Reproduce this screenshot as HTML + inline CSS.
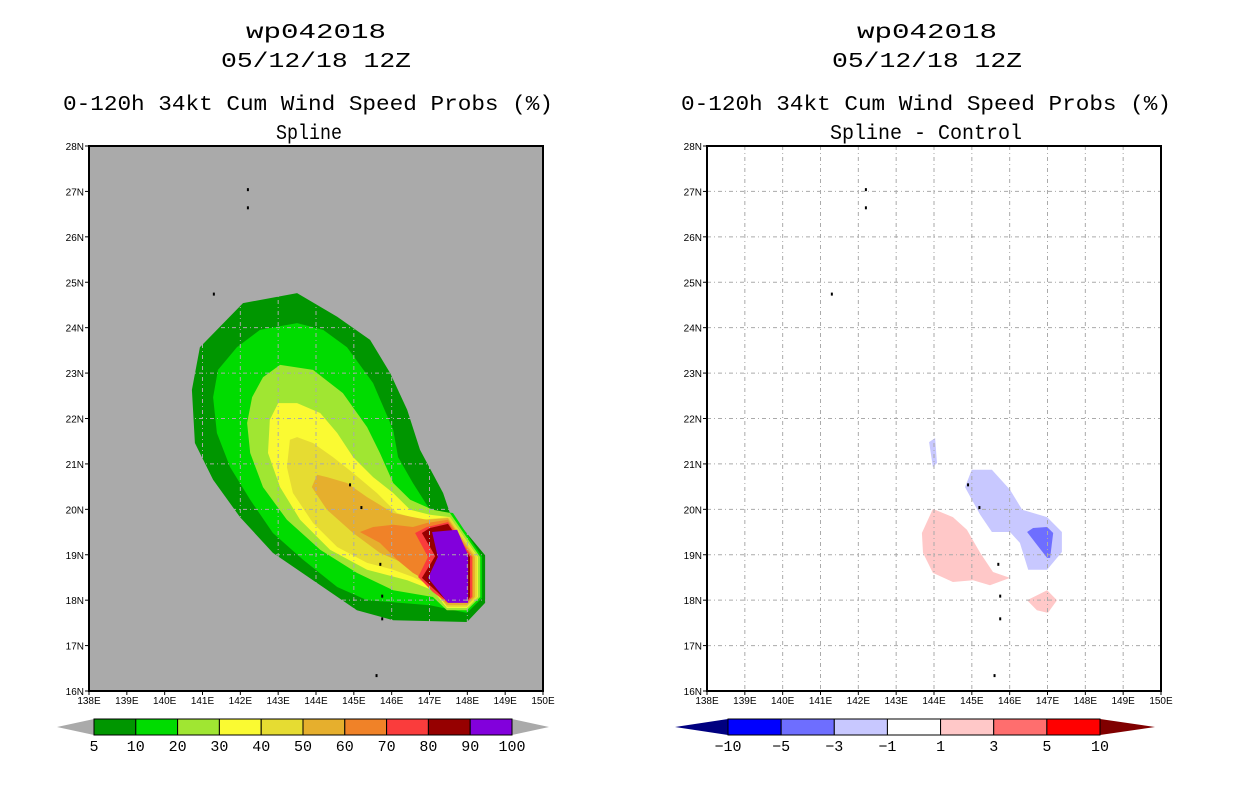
<!DOCTYPE html>
<html><head><meta charset="utf-8"><style>
html,body{margin:0;padding:0;background:#fff;}
svg{display:block;font-family:"Liberation Sans",sans-serif;}
.t{font-family:"Liberation Mono",monospace;font-size:21px;}
</style></head><body>
<svg id="s" width="1236" height="800" xmlns="http://www.w3.org/2000/svg">
<g class="t" text-anchor="middle" fill="#000">
<text x="316" y="38" textLength="140" lengthAdjust="spacingAndGlyphs">wp042018</text>
<text x="316" y="67" textLength="190" lengthAdjust="spacingAndGlyphs">05/12/18 12Z</text>
<text x="308" y="110" textLength="490" lengthAdjust="spacingAndGlyphs">0-120h 34kt Cum Wind Speed Probs (%)</text>
<text x="309" y="139" textLength="66" lengthAdjust="spacingAndGlyphs">Spline</text>
</g>
<g class="t" text-anchor="middle" fill="#000">
<text x="927" y="38" textLength="140" lengthAdjust="spacingAndGlyphs">wp042018</text>
<text x="927" y="67" textLength="190" lengthAdjust="spacingAndGlyphs">05/12/18 12Z</text>
<text x="926" y="110" textLength="490" lengthAdjust="spacingAndGlyphs">0-120h 34kt Cum Wind Speed Probs (%)</text>
<text x="926" y="139" textLength="192" lengthAdjust="spacingAndGlyphs">Spline - Control</text>
</g>
</svg>
<script>
const lonTicks=[138,139,140,141,142,143,144,145,146,147,148,149,150];
const latTicks=[16,17,18,19,20,21,22,23,24,25,26,27,28];
const probLevels=[5,10,20,30,40,50,60,70,80,90];
const probColors=["#009600","#00dc00","#a0e632","#fafa32","#e6dc32","#e6af2d","#f08228","#fa3c3c","#960000","#8200dc"];
const probLabels=["5","10","20","30","40","50","60","70","80","90","100"];
const probPolys=[
[[143.50,24.76],[142.07,24.54],[140.93,23.57],[140.72,22.63],[140.80,21.46],[141.28,20.65],[141.99,19.83],[142.86,19.04],[143.92,18.44],[145.08,17.78],[146.04,17.56],[147.99,17.52],[148.47,17.94],[148.47,18.99],[147.54,19.92],[147.36,20.36],[146.75,21.31],[146.41,22.19],[145.96,23.00],[145.43,23.73],[144.56,24.24]],
[[143.50,24.10],[142.52,23.95],[141.91,23.57],[141.41,23.07],[141.28,22.47],[141.38,21.68],[141.73,20.93],[142.26,20.21],[142.86,19.48],[143.66,18.89],[144.56,18.29],[145.35,18.00],[147.01,17.89],[147.99,17.72],[148.39,18.05],[148.39,18.95],[147.62,19.92],[147.01,19.99],[146.56,20.58],[146.17,21.15],[146.04,21.75],[145.51,22.78],[144.82,23.57],[144.19,23.95]],
[[143.05,23.18],[142.60,22.91],[142.31,22.47],[142.18,21.90],[142.26,21.24],[142.60,20.49],[143.23,19.77],[144.11,19.11],[145.08,18.60],[146.04,18.22],[147.09,18.07],[147.46,17.78],[147.99,17.78],[148.34,18.07],[148.34,18.95],[147.54,19.92],[147.09,19.99],[146.49,20.21],[146.04,20.58],[145.69,21.24],[145.35,21.81],[144.71,22.56],[143.92,23.07]],
[[143.00,22.34],[142.78,21.97],[142.73,21.24],[143.05,20.49],[143.58,19.77],[144.37,19.11],[145.35,18.67],[146.41,18.44],[147.09,18.22],[147.46,17.83],[147.99,17.83],[148.28,18.07],[148.28,18.95],[147.54,19.83],[147.01,19.88],[146.49,19.99],[146.04,20.36],[145.51,20.71],[144.98,21.15],[144.56,21.68],[144.11,22.12],[143.50,22.34]],
[[143.31,21.53],[143.23,20.93],[143.39,20.36],[143.92,19.70],[144.56,19.17],[145.35,18.82],[146.04,18.67],[146.56,18.51],[147.09,18.29],[147.46,17.85],[147.99,17.85],[148.26,18.07],[148.26,18.95],[147.54,19.83],[146.75,19.77],[146.14,19.92],[145.61,20.36],[144.98,20.80],[144.45,21.15],[143.92,21.46],[143.50,21.59]],
[[144.03,20.76],[143.89,20.49],[144.29,19.99],[144.98,19.48],[145.69,19.04],[146.41,18.78],[146.83,18.60],[147.09,18.22],[147.46,17.89],[147.99,17.89],[148.20,18.07],[148.20,18.95],[147.49,19.81],[146.93,19.77],[146.56,19.83],[146.04,19.92],[145.35,20.27],[144.82,20.58],[144.29,20.71]],
[[145.16,19.50],[145.69,19.26],[146.14,18.89],[146.56,18.60],[146.75,18.51],[147.09,18.18],[147.46,17.94],[147.99,17.94],[148.15,18.07],[148.15,18.95],[147.49,19.77],[146.93,19.70],[146.56,19.61],[146.04,19.66],[145.51,19.61]],
[[146.62,19.48],[146.96,18.95],[146.70,18.51],[147.09,18.18],[147.46,17.96],[147.99,17.96],[148.12,18.07],[148.12,18.95],[147.49,19.72],[146.93,19.61]],
[[146.80,19.48],[147.15,18.97],[146.80,18.49],[147.46,17.98],[147.99,17.98],[148.07,18.07],[148.07,18.95],[147.49,19.68],[147.01,19.59]],
[[147.07,19.50],[147.73,19.55],[148.02,18.99],[148.02,17.94],[147.49,17.94],[146.96,18.49],[147.22,18.95]]
];
const diffLabels=["−10","−5","−3","−1","1","3","5","10"];
const diffColors=["#0000ff","#6e6eff","#c8c8ff","#ffffff","#ffc8c8","#ff6e6e","#ff0000"];
const diffPolys=[
{c:"#c8c8ff",p:[[143.87,21.48],[144.03,21.57],[144.08,21.02],[143.97,20.93]]},
{c:"#c8c8ff",p:[[145.00,20.87],[145.53,20.87],[146.01,20.43],[146.33,19.99],[146.99,19.83],[147.38,19.50],[147.38,19.06],[146.99,18.67],[146.49,18.67],[146.27,19.26],[146.01,19.50],[145.53,19.50],[145.22,19.88],[144.82,20.49]]},
{c:"#6e6eff",p:[[146.46,19.50],[146.62,19.59],[146.99,19.61],[147.15,19.48],[147.07,18.93],[146.99,18.93],[146.72,19.22]]},
{c:"#ffc8c8",p:[[143.97,20.01],[144.50,19.83],[144.87,19.55],[145.22,19.04],[145.56,18.62],[146.01,18.49],[145.48,18.33],[145.03,18.44],[144.50,18.40],[143.97,18.60],[143.71,19.04],[143.68,19.48]]},
{c:"#ffc8c8",p:[[146.46,18.00],[146.99,18.22],[147.25,18.00],[147.01,17.72],[146.72,17.78]]}
];
const islands=[[142.2,27.05],[142.2,26.65],[141.3,24.75],[144.9,20.55],[145.2,20.05],[145.7,18.8],[145.75,18.1],[145.75,17.6],[145.6,16.35]];
const NS="http://www.w3.org/2000/svg";
const svg=document.getElementById('s');
function mk(tag,attrs,parent){const e=document.createElementNS(NS,tag);for(const k in attrs)e.setAttribute(k,attrs[k]);(parent||svg).appendChild(e);return e;}
const Y0=146,Y1=691;
function yS(lat){return Y1-(lat-16)*(Y1-Y0)/12;}
function panel(x0,name,bg,polys){
  const x1=x0+454;
  const xS=lon=>x0+(lon-138)*(x1-x0)/12;
  const g=mk('g',{});
  
  
  mk('rect',{x:x0,y:Y0,width:x1-x0,height:Y1-Y0,fill:bg},g);
  polys.forEach((o,i)=>{
    const pts=o.p.map(d=>xS(d[0]).toFixed(1)+','+yS(d[1]).toFixed(1)).join(' ');
    const pg=mk('polygon',{points:pts,fill:o.c},g);
    
    
  });
  lonTicks.slice(1,-1).forEach(l=>mk('line',{x1:xS(l),x2:xS(l),y1:Y0,y2:Y1,stroke:'#aaaaaa','stroke-dasharray':'4,3,1,3','stroke-width':1},g));
  latTicks.slice(1,-1).forEach(l=>mk('line',{x1:x0,x2:x1,y1:yS(l),y2:yS(l),stroke:'#aaaaaa','stroke-dasharray':'4,3,1,3','stroke-width':1},g));
  islands.forEach(d=>mk('rect',{x:xS(d[0])-1,y:yS(d[1])-1,width:2,height:3,fill:'#000'},g));
  const fr=mk('rect',{x:x0,y:Y0,width:x1-x0,height:Y1-Y0,fill:'none',stroke:'#000','stroke-width':2},g);
  
  
  lonTicks.forEach(l=>{
    mk('line',{x1:xS(l),x2:xS(l),y1:Y1,y2:Y1+4,stroke:'#000'},g);
    const t=mk('text',{x:xS(l),y:Y1+13,'font-size':10,'text-anchor':'middle'},g);t.textContent=l+'E';
    
    
  });
  latTicks.forEach(l=>{
    mk('line',{x1:x0-4,x2:x0,y1:yS(l),y2:yS(l),stroke:'#000'},g);
    const t=mk('text',{x:x0-5,y:yS(l)+4,'font-size':10,'text-anchor':'end'},g);t.textContent=l+'N';
    
    
  });
}
panel(89,'prob','#aaaaaa',probPolys.map((p,i)=>({p:p,c:probColors[i]})));
panel(707,'diff','#ffffff',diffPolys);
function colorbar(name,xa,xb,colors,labels,lc,rc,tl,tr){
  const g=mk('g',{});
  
  
  const y0=719,y1=735,w=(xb-xa)/colors.length;
  mk('polygon',{points:`${tl},727 ${xa},${y0} ${xa},${y1}`,fill:lc},g);
  mk('polygon',{points:`${tr},727 ${xb},${y0} ${xb},${y1}`,fill:rc},g);
  colors.forEach((c,i)=>{
    const r=mk('rect',{x:xa+i*w,y:y0,width:w,height:y1-y0,fill:c,stroke:'#000','stroke-width':1},g);
    
    
  });
  labels.forEach((t,i)=>{
    const e=mk('text',{x:xa+i*w,y:751,'font-size':15,'font-family':'Liberation Mono, monospace','text-anchor':'middle'},g);e.textContent=t;
    
    
  });
}
colorbar('prob-colorbar',94,512,probColors,probLabels,'#aaaaaa','#aaaaaa',57,549);
colorbar('diff-colorbar',728,1100,diffColors,diffLabels,'#000080','#800000',675,1155);
</script>
</body></html>
